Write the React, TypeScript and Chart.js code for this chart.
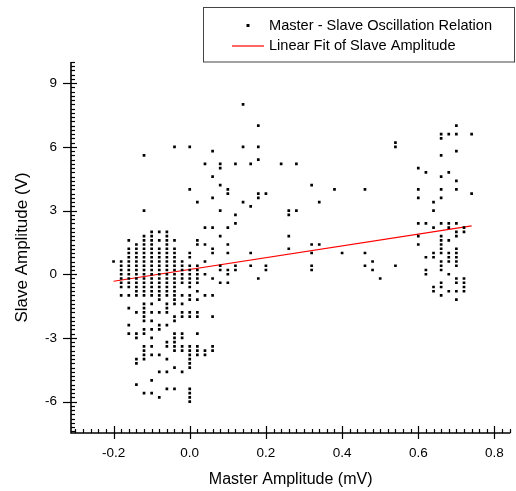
import React, { useEffect, useRef } from 'react';
import { Chart, registerables } from 'chart.js';

Chart.register(...registerables);

const FONT = '"Liberation Sans", Arial, sans-serif';

const xTicks = [-0.2, 0, 0.2, 0.4, 0.6, 0.8];
const xTickLabels = ['-0.2', '0.0', '0.2', '0.4', '0.6', '0.8'];
const yTicks = [-6, -3, 0, 3, 6, 9];
const yTickLabels = ['-6', '-3', '0', '3', '6', '9'];

const scatterLabel = 'Master - Slave Oscillation Relation';
const fitLabel = 'Linear Fit of Slave Amplitude';

// Master amplitude (mV) columns and the slave amplitudes (V) observed at each
const masterCols = [
  -0.2, -0.18, -0.16, -0.14, -0.12, -0.1, -0.08, -0.06, -0.04, -0.02,
  0, 0.02, 0.04, 0.06, 0.08, 0.1, 0.12, 0.14, 0.16, 0.18, 0.2, 0.24, 0.26, 0.28,
  0.32, 0.34, 0.38, 0.4, 0.46, 0.48, 0.5, 0.54, 0.6, 0.62, 0.64, 0.66, 0.68, 0.7, 0.72, 0.74,
];
const slaveCols = [
  [0.6],
  [0.6, 0.4, 0.2, 0, -0.2, -0.4, -0.6, -1.0],
  [1.6, 1.2, 1.0, 0.8, 0.6, 0.4, 0.2, 0, -0.2, -0.4, -0.6, -1.0, -1.6, -2.4, -2.8],
  [1.4, 1.2, 1.0, 0.8, 0.6, 0.4, 0.2, 0, -0.2, -0.4, -0.6, -0.8, -1.0, -1.8, -2.8, -3.0, -4.0, -4.2, -5.2],
  [5.6, 3.0, 1.8, 1.6, 1.4, 1.2, 1.0, 0.8, 0.6, 0.4, 0.2, 0, -0.2, -0.4, -0.6, -0.8, -1.0, -1.4, -1.6, -1.8, -2.0, -2.2, -2.6, -2.8, -3.4, -3.6, -3.8, -4.0, -5.6],
  [2.0, 1.8, 1.6, 1.4, 1.2, 1.0, 0.8, 0.6, 0.4, 0.2, 0, -0.2, -0.4, -0.6, -0.8, -1.0, -1.4, -1.8, -2.2, -2.6, -3.0, -3.4, -3.8, -5.0, -5.6],
  [2.0, 1.6, 1.2, 1.0, 0.8, 0.6, 0.4, 0.2, 0, -0.2, -0.4, -0.6, -0.8, -1.0, -1.2, -1.8, -2.4, -2.6, -3.8, -4.6, -5.8],
  [2.0, 1.8, 1.6, 1.4, 1.2, 1.0, 0.8, 0.6, 0.4, 0.2, 0, -0.2, -0.4, -0.6, -0.8, -1.0, -1.4, -1.6, -1.8, -2.4, -3.2, -3.4, -4.0, -4.6, -5.4],
  [6.0, 1.6, 1.2, 1.0, 0.8, 0.6, 0.4, 0.2, 0, -0.2, -0.4, -0.6, -0.8, -1.0, -1.2, -1.4, -2.0, -2.2, -2.8, -3.0, -3.2, -3.4, -3.6, -4.4, -5.4],
  [0.6, 0.4, 0.2, 0, -0.2, -0.4, -1.0, -1.4, -1.8, -2.0, -2.8, -3.0, -3.4, -3.6, -4.6],
  [6.0, 4.0, 1.0, 0.8, 0.4, 0.2, 0, -0.2, -0.4, -0.6, -1.0, -1.2, -1.8, -2.0, -3.4, -3.6, -3.8, -4.0, -4.2, -4.4, -5.4, -5.6, -5.8, -6.0],
  [3.4, 1.6, 1.4, 0.4, 0.2, 0, -0.2, -0.4, -0.8, -1.2, -1.8, -2.0, -2.8, -3.4, -3.6, -3.8],
  [5.2, 2.2, 1.4, 0.6, 0, -1.0, -3.6, -3.8],
  [5.8, 4.6, 3.6, 2.2, 1.2, 1.0, -0.2, -1.0, -2.0, -3.4, -3.6],
  [5.2, 5.0, 4.2, 3.0, 1.8, 0.4, 0.2, -0.4],
  [4.0, 3.8, 2.2, 1.4, 1.0, 0.2, 0, -0.4],
  [5.2, 2.8, 2.4, 0.4, 0.2],
  [8.0, 6.0, 3.4],
  [5.2, 3.2, 1.0, 0.4],
  [7.0, 6.0, 5.4, 3.8, 3.6, -0.2],
  [3.8, 0.4, 0.2],
  [5.2],
  [3.0, 2.8, 1.8, 1.2],
  [5.2, 3.0],
  [4.2, 1.4, 1.0, 0.4, 0.2],
  [3.4, 1.4],
  [4.0],
  [1.0],
  [4.0, 1.0, 0.4],
  [0.6, 0.2],
  [-0.2],
  [6.2, 6.0, 0.4],
  [5.0, 4.0, 3.6, 2.4, 1.8, 1.4],
  [4.8, 2.4, 0.8, 0.2, 0],
  [3.4, 3.0, 2.2, 1.0, 0.8, -0.6, -0.8],
  [6.6, 6.4, 5.6, 4.6, 4.0, 3.6, 2.4, 1.8, 1.6, 1.4, 1.2, 1.0, 0.6, 0.4, 0.2, -0.4, -0.6, -1.0],
  [6.6, 4.8, 2.4, 2.2, 1.6, 1.0, 0.8, 0.6, 0, -0.8],
  [7.0, 6.6, 5.8, 4.4, 4.0, 2.4, 2.0, 1.8, 1.2, 1.0, 0.8, 0.6, 0.4, -0.2, -0.4, -0.8, -1.2],
  [2.2, 2.0, -0.2, -0.4, -0.6, -0.8],
  [6.6, 3.8],
];

// Linear fit end points
const fitX = [-0.2, 0.74];
const fitY = [-0.33, 2.28];

const X_MIN = -0.3117;
const X_MAX = 0.8416;
const Y_MIN = -7.48;
const Y_MAX = 10.0;

const labelFor = (vals: number[], labels: string[], v: number) => {
  const i = vals.findIndex((t) => Math.abs(t - v) < 1e-9);
  return i >= 0 ? labels[i] : '';
};

const originPlugin = {
  id: 'originAxes',
  afterDraw(chart: any) {
    const { ctx, chartArea } = chart;
    const { left, right, top, bottom } = chartArea;
    const xs = chart.scales.x;
    const ys = chart.scales.y;
    ctx.save();
    ctx.strokeStyle = '#000';
    ctx.lineCap = 'butt';
    // axis lines
    ctx.lineWidth = 1.6;
    ctx.beginPath();
    ctx.moveTo(left, top);
    ctx.lineTo(left, bottom);
    ctx.lineTo(right, bottom);
    ctx.stroke();

    ctx.lineWidth = 1.2;
    // y ticks
    for (let i = Math.ceil(Y_MIN * 5); i <= Math.floor(Y_MAX * 5); i++) {
      const v = i / 5;
      const py = Math.round(ys.getPixelForValue(v)) + 0.5;
      ctx.beginPath();
      if (i % 15 === 0) {
        ctx.moveTo(left - 8, py);
        ctx.lineTo(left + 6, py);
      } else {
        ctx.moveTo(left, py);
        ctx.lineTo(left + 4, py);
      }
      ctx.stroke();
    }
    // x ticks
    for (let i = Math.ceil(X_MIN * 50); i <= Math.floor(X_MAX * 50); i++) {
      const v = i / 50;
      const px = Math.round(xs.getPixelForValue(v)) + 0.5;
      ctx.beginPath();
      if (i % 10 === 0) {
        ctx.moveTo(px, bottom + 6);
        ctx.lineTo(px, bottom - 7);
      } else {
        ctx.moveTo(px, bottom);
        ctx.lineTo(px, bottom - 4);
      }
      ctx.stroke();
    }

    // legend box
    ctx.lineWidth = 1;
    ctx.strokeStyle = '#444';
    ctx.strokeRect(203.5, 7.5, 311, 54.5);
    const ds = chart.data.datasets;
    ctx.fillStyle = '#000';
    ctx.fillRect(246.5, 24, 3, 3);
    ctx.strokeStyle = '#ff0000';
    ctx.lineWidth = 1.2;
    ctx.beginPath();
    ctx.moveTo(232, 46);
    ctx.lineTo(264, 46);
    ctx.stroke();
    ctx.fillStyle = '#000';
    ctx.font = `14.6px ${FONT}`;
    ctx.textBaseline = 'middle';
    ctx.textAlign = 'left';
    ctx.fillText(ds[0].label, 269, 26);
    ctx.fillText(ds[1].label, 269, 46);
    ctx.restore();
  },
};

export default function App() {
  const ref = useRef<HTMLCanvasElement | null>(null);

  useEffect(() => {
    if (!ref.current) return;
    const points = masterCols.flatMap((x, i) => slaveCols[i].map((y) => ({ x, y })));
    const fit = fitX.map((x, i) => ({ x, y: fitY[i] }));
    const chart = new Chart(ref.current, {
      type: 'scatter',
      data: {
        datasets: [
          {
            label: scatterLabel,
            data: points,
            pointStyle: 'rect',
            pointRadius: 1.9,
            pointBorderWidth: 0,
            backgroundColor: '#000',
            borderColor: '#000',
          },
          {
            type: 'line',
            label: fitLabel,
            data: fit,
            borderColor: '#ff0000',
            borderWidth: 1.2,
            pointRadius: 0,
            showLine: true,
            fill: false,
          } as any,
        ],
      },
      options: {
        responsive: false,
        animation: false,
        events: [],
        layout: { padding: { top: 62, right: 1, left: 0, bottom: 0 } },
        plugins: { legend: { display: false }, tooltip: { enabled: false } },
        scales: {
          x: {
            type: 'linear',
            min: X_MIN,
            max: X_MAX,
            grid: { display: false, drawTicks: false },
            border: { display: false },
            afterBuildTicks: (s: any) => {
              s.ticks = xTicks.map((v) => ({ value: v }));
            },
            afterFit: (s: any) => {
              s.height = 58;
            },
            ticks: {
              autoSkip: false,
              maxRotation: 0,
              padding: 12,
              color: '#000',
              font: { size: 13.5, family: FONT },
              callback: (v: any) => labelFor(xTicks, xTickLabels, Number(v)),
            },
            title: {
              display: true,
              text: 'Master Amplitude (mV)',
              color: '#000',
              font: { size: 16, family: FONT },
              padding: { top: 0, bottom: 2 },
            },
          },
          y: {
            type: 'linear',
            min: Y_MIN,
            max: Y_MAX,
            grid: { display: false, drawTicks: false },
            border: { display: false },
            afterBuildTicks: (s: any) => {
              s.ticks = yTicks.map((v) => ({ value: v }));
            },
            afterFit: (s: any) => {
              s.width = 71;
            },
            ticks: {
              autoSkip: false,
              padding: 14,
              color: '#000',
              font: { size: 13.5, family: FONT },
              callback: (v: any) => labelFor(yTicks, yTickLabels, Number(v)),
            },
            title: {
              display: true,
              text: 'Slave Amplitude (V)',
              color: '#000',
              font: { size: 17, family: FONT },
              padding: { top: 12, bottom: 0 },
            },
          },
        },
      },
      plugins: [originPlugin],
    });
    return () => chart.destroy();
  }, []);

  return (
    <div style={{ position: 'fixed', left: 0, top: 0, width: 516, height: 491, background: '#fff' }}>
      <canvas ref={ref} width={516} height={491} />
    </div>
  );
}
